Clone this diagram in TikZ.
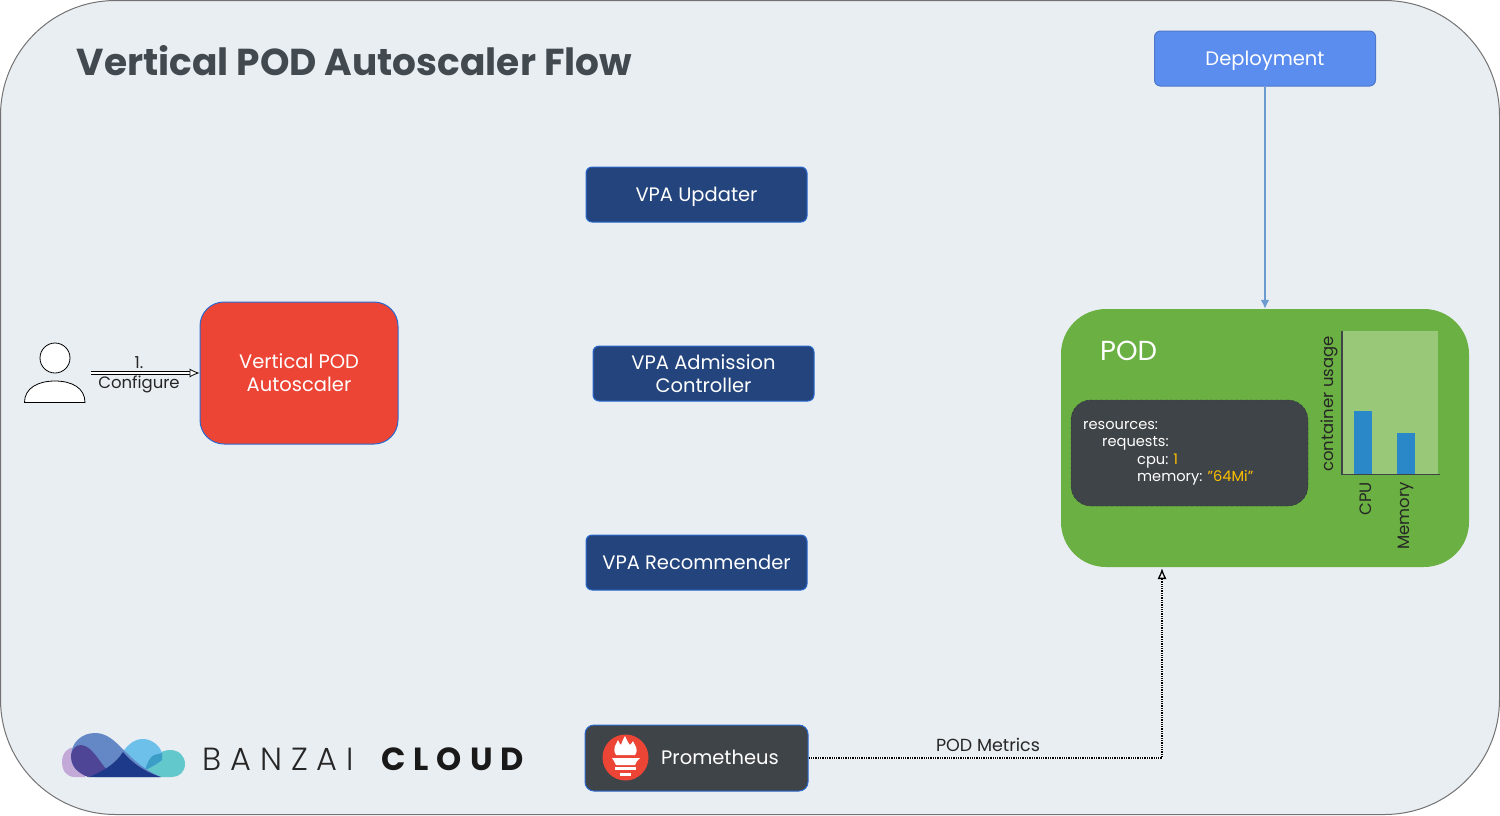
\documentclass[tikz,border=0pt]{standalone}
\usepackage{fontspec}
\setmainfont{Poppins}
\newfontfamily\lightfont[LetterSpace=28]{Poppins Light}
\newfontfamily\boldfont[LetterSpace=25]{Poppins}
\usetikzlibrary{arrows.meta}
\usetikzlibrary{positioning}

\definecolor{pagebg}{HTML}{E9EEF3}
\definecolor{navybox}{HTML}{23447C}
\definecolor{boxline}{HTML}{2B6AD0}
\definecolor{deploybox}{HTML}{5B8DEF}
\definecolor{redbox}{HTML}{EC4536}
\definecolor{podgreen}{HTML}{6AB042}
\definecolor{chartbg}{HTML}{98C878}
\definecolor{barblue}{HTML}{2A88C8}
\definecolor{darkbox}{HTML}{3F4448}
\definecolor{titlegray}{HTML}{434A4F}
\definecolor{linkblue}{HTML}{6C9BD0}
\definecolor{valuegold}{HTML}{FFBF00}
\definecolor{logolilac}{HTML}{C2A9D8}
\definecolor{logohump}{HTML}{6487C6}
\definecolor{logosky}{HTML}{6CC0EA}
\definecolor{logoteal}{HTML}{62C8CC}
\definecolor{logomix}{HTML}{3A9EC6}
\definecolor{logoplum}{HTML}{4E4596}
\definecolor{logonavy}{HTML}{1D3A8A}

\begin{document}
\begin{tikzpicture}[
	x=1pt, y=-1pt,
	font=\fontsize{19.5}{23}\selectfont,
	vpabox/.style = {draw=boxline,fill=navybox,text=white,rounded corners=6pt,line width=1pt,minimum width=221pt,minimum height=55pt,align=center,inner sep=0pt},
	oneline/.style = {text height=16pt,text depth=3pt},
	lbl/.style = {text=black!85,font=\fontsize{16.5}{20}\selectfont,align=center,inner sep=0pt},
	ylbl/.style = {text=black!85,font=\fontsize{16.5}{20}\selectfont,rotate=90,inner sep=0pt},
	code/.style = {text=white,font=\fontsize{14.6}{17.5}\selectfont,anchor=base west,inner sep=0pt}
	]
	\useasboundingbox (0,0) rectangle (1500,815);
	\fill[white] (0,0) rectangle (1500,815);
	\draw[fill=pagebg,draw=black!55,line width=1pt,rounded corners=115pt] (0.5,0.5) rectangle (1499.5,814.5);

	\node[text=titlegray,font=\fontsize{37.5}{44}\bfseries\selectfont,anchor=west,inner sep=0pt] (title) at (76.5,61) {Vertical POD Autoscaler Flow};

	% boxes
	\node[vpabox,oneline,draw=deploybox!85!black,fill=deploybox] (deployment) at (1265,58.5) {Deployment};
	\node[vpabox,oneline] (updater) at (696.5,194.5) {VPA Updater};
	\node[vpabox] (admission) at (703.5,373.5) {VPA Admission\\Controller};
	\node[vpabox,oneline] (recommender) at (696.5,562.5) {VPA Recommender};
	\node[vpabox,fill=darkbox,minimum width=223pt,minimum height=66pt,rounded corners=9pt] (prometheus) at (696.5,758) {};
	\node[text=white,anchor=base west,inner sep=0pt] (promlabel) at (661,764) {Prometheus};
	\node[vpabox,fill=redbox,minimum width=198pt,minimum height=142pt,rounded corners=24pt] (vpa) at (299,373) {Vertical POD\\Autoscaler};

	% prometheus icon
	\node[circle,fill=redbox,minimum size=46pt,inner sep=0pt] (promicon) at (625.5,757.5) {};
	\fill[white] (616,755) .. controls (612,748) and (616,745) .. (618,740) .. controls (619,743) and (620,744) .. (621,745) .. controls (622,742) and (623,739) .. (625,736) .. controls (627,740) and (628,743) .. (630,745) .. controls (631,744) and (632,743) .. (633,741) .. controls (635,746) and (639,749) .. (635,755) -- cycle;
	\fill[white] (612,758) -- (640,758) -- (637,761) -- (635,765) -- (616,765) -- (614,761) -- cycle;
	\fill[white] (615,767) rectangle (636,770);
	\fill[white] (620,773) rectangle (631,776);

	% pod
	\node[fill=podgreen,minimum width=408pt,minimum height=258pt,rounded corners=45pt,inner sep=0pt] (pod) at (1265,438) {};
	\node[text=white,font=\fontsize{27.5}{30}\selectfont,anchor=west,inner sep=0pt] (podlabel) at (1100,351) {POD};
	\node[fill=darkbox,draw=darkbox!80!black,densely dashed,minimum width=237pt,minimum height=106pt,rounded corners=20pt,inner sep=0pt] (resources) at (1189.5,453) {};
	\node[code] (res) at (1083,429) {resources:};
	\node[code] (req) at (1102,446.5) {requests:};
	\node[code] (cpu) at (1137,464) {cpu:\hspace{5pt}\textcolor{valuegold}{1}};
	\node[code] (mem) at (1137,481.5) {memory: \textcolor{valuegold}{"64Mi"}};

	% chart
	\fill[chartbg] (1342,331) rectangle (1438,474);
	\fill[barblue] (1354,411) rectangle (1372,474);
	\fill[barblue] (1397,433) rectangle (1415,474);
	\draw[darkbox,line width=1.5pt] (1342,331) -- (1342,474.5) -- (1440,474.5);
	\node[ylbl,anchor=east] (usage) at (1329,336) {container usage};
	\node[ylbl,anchor=east] (cpubar) at (1366,482) {CPU};
	\node[ylbl,anchor=east] (membar) at (1405.5,482) {Memory};

	% user
	\node[circle,draw=black,fill=white,line width=0.8pt,minimum size=30pt,inner sep=0pt] (head) at (55,358) {};
	\draw[black,fill=white,line width=0.8pt] (24.5,402.5) .. controls (24.5,388) and (38,381) .. (55,381) .. controls (72,381) and (85,388) .. (85,402.5) -- cycle;
	\coordinate (user) at (91,373);

	% links
	\draw[-{Latex[length=10pt,width=9pt,fill=white]},draw=black,line width=0.8pt,double=white,double distance=1.6pt] (user) -- (vpa.west);
	\node[lbl] (configure) at (139,374.5) {1.\\Configure};
	\draw[-{Latex[length=9pt,width=9pt]},linkblue,line width=2pt] (deployment) -- (deployment |- pod.north);
	\coordinate (metricsin) at (1162,568);
	\coordinate (metricscorner) at (1162,758);
	\draw[white,line width=2.6pt] (prometheus.east) -- (metricscorner) -- (metricsin);
	\draw[black,line width=1.3pt,densely dotted,-{Latex[length=11pt,width=9pt,fill=white]}] (prometheus.east) -- (metricscorner) -- (metricsin);
	\node[lbl,font=\fontsize{17.5}{20}\selectfont,anchor=south,inner sep=0pt] (metrics) at (988,752) {POD Metrics};

	% logo
	\fill[logolilac] (85,777) -- (75,777) .. controls (66,777) and (62,770) .. (62,762) .. controls (62,753) and (68,747) .. (75,747) -- (90,760) -- cycle;
	\fill[logoteal] (145,770) .. controls (151,758) and (160,750) .. (170,750) .. controls (179,750) and (185,756) .. (185,764) .. controls (185,772) and (179,777) .. (172,777) -- (161,777) -- cycle;
	\fill[logosky] (123,752) .. controls (128,744) and (135,739) .. (143,739) .. controls (152,739) and (160,746) .. (162,753) -- (162,760) .. controls (157,764) and (150,768) .. (145,770) .. controls (136,766) and (129,760) .. (123,752);
	\fill[logomix] (145,770) .. controls (147,763) and (150,757) .. (154,755) -- (162,753) -- (162,760) .. controls (157,764) and (150,768) .. (145,770);
	\fill[logohump] (71,757) .. controls (71,742) and (82,733) .. (95,733) .. controls (118,733) and (125,762) .. (161,777) -- (95,777) .. controls (80,775) and (71,768) .. (71,757);
	\fill[logoplum] (71,755) .. controls (72,749) and (76,745) .. (81,745) .. controls (92,746) and (98,760) .. (107,770) -- (88,777) .. controls (78,773) and (71,767) .. (71,755);
	\fill[logonavy] (88,777) .. controls (100,773) and (115,765) .. (123,752) .. controls (132,763) and (145,772) .. (161,777) -- cycle;
	\node[text=black!85,font=\fontsize{32}{36}\lightfont,anchor=west,inner sep=0pt] (banzai) at (202,759) {BANZAI};
	\node[text=black!90,font=\fontsize{32}{36}\boldfont\bfseries,anchor=west,inner sep=0pt] (cloud) at (381,759) {CLOUD};
\end{tikzpicture}
\end{document}
